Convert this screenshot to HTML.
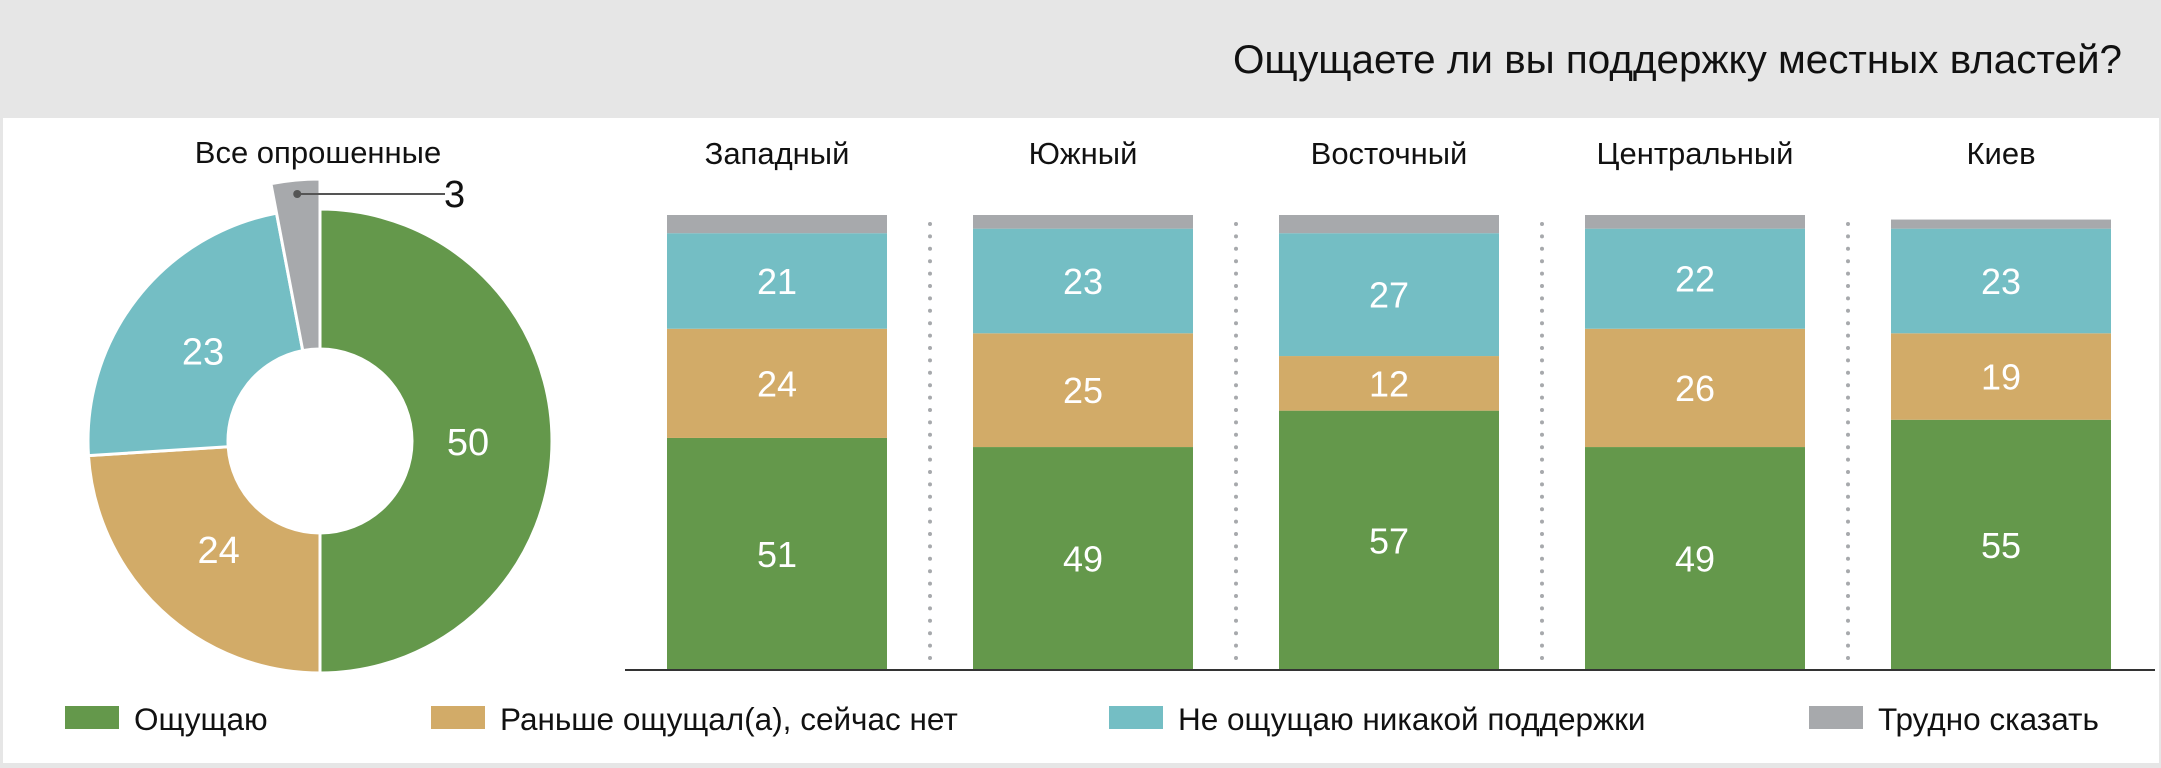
<!DOCTYPE html>
<html><head><meta charset="utf-8"><style>
html,body{margin:0;padding:0;background:#e6e6e6;}
svg{display:block;font-family:"Liberation Sans","DejaVu Sans",sans-serif;}
</style></head><body>
<svg id="chart" width="2161" height="768" viewBox="0 0 2161 768" xmlns="http://www.w3.org/2000/svg">
<rect x="0" y="0" width="2161" height="768" fill="#e6e6e6"/>
<rect x="3" y="118" width="2156" height="645" fill="#ffffff"/>
<text x="2122" y="73" font-size="40" text-anchor="end" textLength="889" lengthAdjust="spacingAndGlyphs" fill="#111">Ощущаете ли вы поддержку местных властей?</text>
<text x="318" y="163" font-size="31" text-anchor="middle" fill="#111">Все опрошенные</text>
<g id="donut"></g>
<g id="bars"></g>
<g id="legend"></g>
</svg>
<script>
const seriesNames = ["Ощущаю", "Раньше ощущал(а), сейчас нет", "Не ощущаю никакой поддержки", "Трудно сказать"];
const seriesColors = ["#64984b", "#d2ab68", "#74bec4", "#a7a9ac"];
const donutValues = [50, 24, 23, 3];
const categories = ["Западный", "Южный", "Восточный", "Центральный", "Киев"];
const feel = [51, 49, 57, 49, 55];
const before = [24, 25, 12, 26, 19];
const notFeel = [21, 23, 27, 22, 23];
const hard = [4, 3, 4, 3, 2];

const NS = "http://www.w3.org/2000/svg";
function mk(tag, attrs, parent) {
  const e = document.createElementNS(NS, tag);
  for (const k in attrs) e.setAttribute(k, attrs[k]);
  parent.appendChild(e);
  return e;
}

// Donut
const donut = document.getElementById('donut');
const cx = 320, cy = 441, rO = 232, rI = 92;
const total = donutValues.reduce((a, b) => a + b, 0);
function pt(r, a) { return [cx + r * Math.sin(a), cy - r * Math.cos(a)]; }
let acc = 0;
const donutNames = ['donut-slice-feel', 'donut-slice-before', 'donut-slice-not-feel', 'donut-slice-hard'];
donutValues.forEach((v, i) => {
  const a0 = acc / total * 2 * Math.PI;
  acc += v;
  const a1 = acc / total * 2 * Math.PI;
  const ro = i === 3 ? rO + 30 : rO;
  const large = (a1 - a0) > Math.PI ? 1 : 0;
  const p0 = pt(ro, a0), p1 = pt(ro, a1), q1 = pt(rI, a1), q0 = pt(rI, a0);
  const d = `M${p0[0]},${p0[1]} A${ro},${ro} 0 ${large} 1 ${p1[0]},${p1[1]} L${q1[0]},${q1[1]} A${rI},${rI} 0 ${large} 0 ${q0[0]},${q0[1]} Z`;
  const p = mk('path', {d: d, fill: seriesColors[i], stroke: '#fff', 'stroke-width': 3}, donut);
  
  
  const am = (a0 + a1) / 2;
  if (i < 3) {
    const lp = pt(148, am);
    const t = mk('text', {x: lp[0], y: lp[1] + 14, 'font-size': 38, fill: '#fff', 'text-anchor': 'middle'}, donut);
    t.textContent = v;
    
    
  } else {
    const dp = pt(rO + 10, am);
    const c = mk('circle', {cx: dp[0], cy: 194, r: 4, fill: '#555'}, donut);
    
    
    const l = mk('line', {x1: dp[0], y1: 194, x2: 445, y2: 194, stroke: '#555', 'stroke-width': 2}, donut);
    
    
    const t = mk('text', {x: 444, y: 207, 'font-size': 38, fill: '#111'}, donut);
    t.textContent = v;
    
    
  }
});

// Bars
const bars = document.getElementById('bars');
const baseY = 670, unit = 4.55, x0 = 667, step = 306, bw = 220;
function yScale(v) { return baseY - v * unit; }
function xScale(i) { return x0 + i * step; }
const stacks = [feel, before, notFeel, hard];
const segNames = ['bar-feel', 'bar-before', 'bar-not-feel', 'bar-hard'];
categories.forEach((cat, i) => {
  const x = xScale(i);
  const t = mk('text', {x: x + bw / 2, y: 164, 'font-size': 31, 'text-anchor': 'middle', fill: '#111'}, bars);
  t.textContent = cat;
  
  
  let cum = 0;
  stacks.forEach((s, j) => {
    const v = s[i];
    const yTop = yScale(cum + v), yBot = yScale(cum);
    const r = mk('rect', {x: x, y: yTop, width: bw, height: yBot - yTop, fill: seriesColors[j]}, bars);
    
    
    if (j < 3) {
      const lt = mk('text', {x: x + bw / 2, y: (yTop + yBot) / 2 + 13, 'font-size': 36, 'text-anchor': 'middle', fill: '#fff'}, bars);
      lt.textContent = v;
      
      
    }
    cum += v;
  });
  if (i > 0) {
    const sx = x - (step - bw) / 2;
    for (let y = 224; y <= 662; y += 12.4) {
      const d = mk('circle', {cx: sx, cy: y, r: 2, fill: '#a7a9ac'}, bars);
      
      
    }
  }
});
const ax = mk('line', {x1: 625, y1: 670, x2: 2155, y2: 670, stroke: '#333', 'stroke-width': 2}, bars);



// Legend
const legend = document.getElementById('legend');
const legX = [65, 431, 1109, 1809];
const legNames = ['legend-entry-feel', 'legend-entry-before', 'legend-entry-not-feel', 'legend-entry-hard'];
seriesNames.forEach((n, i) => {
  const g = mk('g', {}, legend);
  
  
  const r = mk('rect', {x: legX[i], y: 706, width: 54, height: 23, fill: seriesColors[i]}, g);
  
  
  const t = mk('text', {x: legX[i] + 69, y: 730, 'font-size': 31.5, fill: '#111'}, g);
  t.textContent = n;
  
  
});
</script>
</body></html>
